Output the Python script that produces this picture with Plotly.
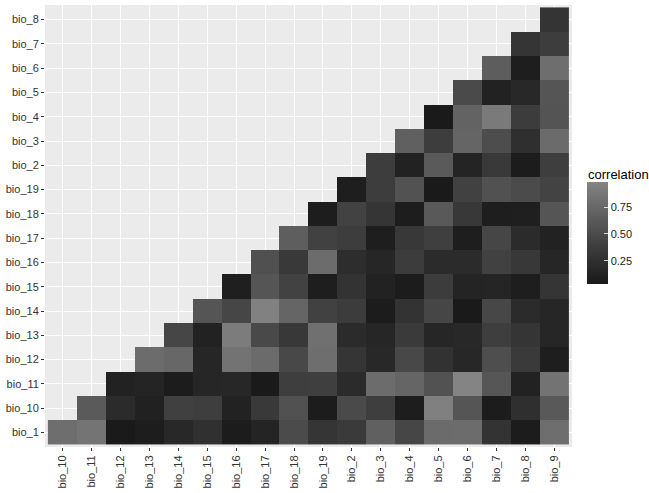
import plotly.graph_objects as go

# Column and row variables of the pairwise correlation matrix (upper triangle)
x_labels = ["bio_10", "bio_11", "bio_12", "bio_13", "bio_14", "bio_15", "bio_16", "bio_17",
            "bio_18", "bio_19", "bio_2", "bio_3", "bio_4", "bio_5", "bio_6", "bio_7", "bio_8", "bio_9"]
y_labels = ["bio_1", "bio_10", "bio_11", "bio_12", "bio_13", "bio_14", "bio_15", "bio_16", "bio_17",
            "bio_18", "bio_19", "bio_2", "bio_3", "bio_4", "bio_5", "bio_6", "bio_7", "bio_8"]

# Each row lists |r| against the columns starting at its own position in x_labels
corr_bio_1 = [0.80, 0.85, 0.03, 0.06, 0.17, 0.25, 0.05, 0.13, 0.50, 0.30, 0.34, 0.68, 0.45, 0.77, 0.78, 0.28, 0.05, 0.80]
corr_bio_10 = [0.63, 0.20, 0.10, 0.40, 0.38, 0.11, 0.33, 0.55, 0.05, 0.49, 0.38, 0.06, 0.95, 0.58, 0.05, 0.24, 0.62]
corr_bio_11 = [0.11, 0.13, 0.05, 0.15, 0.16, 0.03, 0.38, 0.39, 0.20, 0.78, 0.72, 0.56, 0.98, 0.59, 0.11, 0.84]
corr_bio_12 = [0.78, 0.74, 0.15, 0.84, 0.77, 0.47, 0.80, 0.30, 0.17, 0.47, 0.27, 0.16, 0.52, 0.34, 0.07]
corr_bio_13 = [0.45, 0.11, 0.92, 0.48, 0.32, 0.82, 0.20, 0.15, 0.34, 0.15, 0.17, 0.38, 0.30, 0.15]
corr_bio_14 = [0.58, 0.45, 0.96, 0.72, 0.41, 0.36, 0.05, 0.28, 0.45, 0.03, 0.46, 0.20, 0.15]
corr_bio_15 = [0.08, 0.58, 0.42, 0.07, 0.28, 0.11, 0.05, 0.36, 0.13, 0.14, 0.07, 0.30]
corr_bio_16 = [0.54, 0.33, 0.78, 0.22, 0.15, 0.36, 0.20, 0.20, 0.41, 0.32, 0.15]
corr_bio_17 = [0.66, 0.41, 0.37, 0.07, 0.32, 0.39, 0.07, 0.45, 0.20, 0.11]
corr_bio_18 = [0.06, 0.42, 0.30, 0.06, 0.62, 0.32, 0.07, 0.08, 0.58]
corr_bio_19 = [0.07, 0.37, 0.56, 0.03, 0.41, 0.55, 0.50, 0.43]
corr_bio_2 = [0.37, 0.11, 0.63, 0.13, 0.33, 0.05, 0.38]
corr_bio_3 = [0.68, 0.37, 0.72, 0.51, 0.24, 0.77]
corr_bio_4 = [0.03, 0.70, 0.90, 0.36, 0.57]
corr_bio_5 = [0.49, 0.11, 0.17, 0.58]
corr_bio_6 = [0.65, 0.07, 0.80]
corr_bio_7 = [0.30, 0.37]
corr_bio_8 = [0.29]

legend_ticks = [0.25, 0.50, 0.75]

rows = [corr_bio_1, corr_bio_10, corr_bio_11, corr_bio_12, corr_bio_13, corr_bio_14,
        corr_bio_15, corr_bio_16, corr_bio_17, corr_bio_18, corr_bio_19, corr_bio_2,
        corr_bio_3, corr_bio_4, corr_bio_5, corr_bio_6, corr_bio_7, corr_bio_8]

n = len(x_labels)
z = []
for i, vals in enumerate(rows):
    z.append([None] * i + list(vals) + [None] * (n - i - len(vals)))

flat = [v for r in rows for v in r]
zmin, zmax = min(flat), max(flat)


# Gray gradient interpolated in CIE L* (like ggplot's scale_fill_gradient)
def srgb_to_lin(c):
    c = c / 255
    return c / 12.92 if c <= 0.04045 else ((c + 0.055) / 1.055) ** 2.4


def lin_to_srgb(y):
    c = 12.92 * y if y <= 0.0031308 else 1.055 * y ** (1 / 2.4) - 0.055
    return max(0, min(255, round(c * 255)))


def lstar(y):
    return 116 * y ** (1 / 3) - 16 if y > 0.008856 else 903.3 * y


def inv_lstar(L):
    return ((L + 16) / 116) ** 3 if L > 8 else L / 903.3


low_g, high_g = 0x1A, 0x84
L0, L1 = lstar(srgb_to_lin(low_g)), lstar(srgb_to_lin(high_g))
colorscale = []
for k in range(11):
    t = k / 10
    g = lin_to_srgb(inv_lstar(L0 + (L1 - L0) * t))
    colorscale.append([t, f"rgb({g},{g},{g})"])

FONT = "Liberation Sans, Arial, sans-serif"

# panel geometry in pixels
W, H = 649, 493
pl, pr, pt, pb = 45, 572, 5, 452
bar_len = 102
bar_center = 236

fig = go.Figure(go.Heatmap(
    x=x_labels, y=y_labels, z=z,
    zmin=zmin, zmax=zmax,
    colorscale=colorscale,
    hoverongaps=False,
    colorbar=dict(
        thickness=21, thicknessmode="pixels",
        len=bar_len, lenmode="pixels",
        x=(587 - pl) / (pr - pl), xanchor="left", xpad=0,
        y=(pb - bar_center) / (pb - pt), yanchor="middle", ypad=0,
        outlinewidth=0,
        tickvals=legend_ticks,
        ticktext=[f"{v:.2f}" for v in legend_ticks],
        ticks="inside", ticklen=4, tickcolor="rgba(255,255,255,0.8)", tickwidth=1,
        tickfont=dict(family=FONT, size=11, color="#1A1A1A"),
    ),
))

# left-side white tick marks on the colorbar, as ggplot draws them
bar_bottom = bar_center + bar_len / 2
for v in legend_ticks:
    yp = bar_bottom - (v - zmin) / (zmax - zmin) * bar_len
    fig.add_shape(type="line", xref="paper", yref="paper",
                  x0=(587 - pl) / (pr - pl), x1=(591 - pl) / (pr - pl),
                  y0=(pb - yp) / (pb - pt), y1=(pb - yp) / (pb - pt),
                  line=dict(color="rgba(255,255,255,0.8)", width=1))

fig.add_annotation(text="correlation", xref="paper", yref="paper",
                   x=(586 - pl) / (pr - pl), y=(pb - 176) / (pb - pt),
                   xanchor="left", yanchor="middle", showarrow=False,
                   font=dict(family=FONT, size=13, color="#000000"))

axis_common = dict(
    type="category",
    range=[-0.6, n - 0.4],
    showgrid=True, gridcolor="white", gridwidth=1.1,
    zeroline=False, showline=False,
    ticks="outside", ticklen=3, tickwidth=1, tickcolor="#333333",
    tickfont=dict(family=FONT, size=11, color="#333333"),
    fixedrange=True,
)

fig.update_layout(
    width=W, height=H,
    margin=dict(l=pl, r=W - pr, t=pt, b=H - pb),
    paper_bgcolor="white",
    plot_bgcolor="#EBEBEB",
    xaxis=dict(axis_common, categoryorder="array", categoryarray=x_labels, tickangle=-90),
    yaxis=dict(axis_common, categoryorder="array", categoryarray=y_labels),
    showlegend=False,
)

fig.write_html("out.html")
